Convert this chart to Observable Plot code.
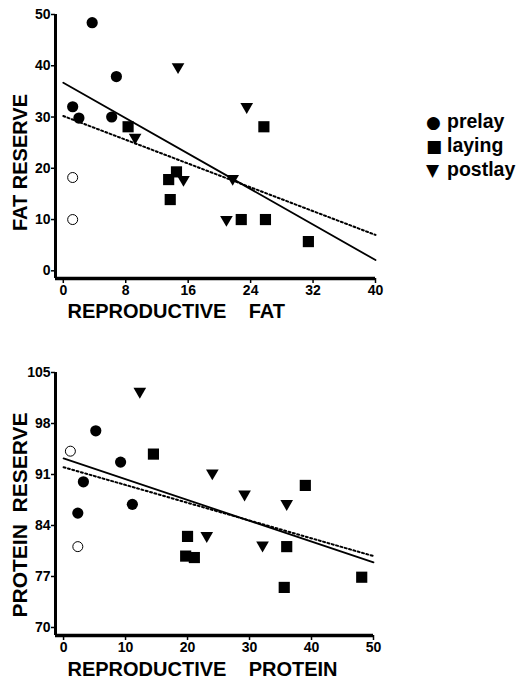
<!DOCTYPE html>
<html><head><meta charset="utf-8">
<script src="https://cdn.jsdelivr.net/npm/d3@7"></script>
<script src="https://cdn.jsdelivr.net/npm/@observablehq/plot@0.6"></script>
<style>
body{margin:0;background:#fff;font-family:"Liberation Sans",Arial,sans-serif;}
#wrap{position:relative;width:526px;height:683px;overflow:hidden}
#wrap svg{display:block}
#legend{position:absolute;left:426px;top:110px;font-weight:bold;font-size:19.5px;line-height:23px;color:#000}
#legend .s{display:inline-block;width:21px;text-align:left;font-family:"DejaVu Sans",sans-serif;font-size:17px}
</style></head><body>
<div id="wrap"><div id="legend"></div></div>
<script>
// ---------- data ----------
const seriesNames = ["prelay", "laying", "postlay"];

// Top panel: reproductive fat (x) vs fat reserve (y)
const fatXTicks = [0, 8, 16, 24, 32, 40];
const fatYTicks = [0, 10, 20, 30, 40, 50];
const fatPrelay = [[3.7, 48.4], [6.8, 37.9], [1.2, 32.0], [2.0, 29.8], [6.2, 30.0]];
const fatPrelayOpen = [[1.2, 18.2], [1.2, 10.0]];
const fatLaying = [[8.3, 28.1], [25.7, 28.1], [13.5, 17.8], [14.5, 19.3], [13.7, 13.9], [22.8, 10.0], [25.9, 10.0], [31.4, 5.7]];
const fatPostlay = [[14.7, 39.8], [23.5, 32.0], [9.2, 26.0], [15.4, 17.8], [21.7, 18.0], [20.9, 10.0]];
const fatFitSolid = {intercept: 36.7, slope: -0.865, from: 0, to: 40};
const fatFitDotted = {intercept: 30.2, slope: -0.58, from: 0, to: 40};

// Bottom panel: reproductive protein (x) vs protein reserve (y)
const protXTicks = [0, 10, 20, 30, 40, 50];
const protYTicks = [70, 77, 84, 91, 98, 105];
const protPrelay = [[5.2, 97.0], [9.2, 92.7], [3.2, 90.0], [2.3, 85.7], [11.1, 86.9]];
const protPrelayOpen = [[1.1, 94.2], [2.3, 81.1]];
const protLaying = [[14.5, 93.8], [39.0, 89.5], [20.0, 82.5], [19.7, 79.8], [21.1, 79.6], [36.0, 81.1], [35.6, 75.5], [48.1, 76.9]];
const protPostlay = [[12.3, 102.4], [24.0, 91.2], [29.2, 88.3], [36.0, 87.0], [23.1, 82.6], [32.1, 81.3]];
const protFitSolid = {intercept: 93.2, slope: -0.285, from: 0, to: 50};
const protFitDotted = {intercept: 92.0, slope: -0.244, from: 0, to: 50};

// ---------- drawing ----------
const triDown = {
  draw(ctx, size) {
    const w = Math.sqrt(4 * size / Math.sqrt(3)), h = w * Math.sqrt(3) / 2;
    ctx.moveTo(-w / 2, -h / 3); ctx.lineTo(w / 2, -h / 3); ctx.lineTo(0, 2 * h / 3); ctx.closePath();
  }
};
const fitPts = f => [f.from, f.to].map(x => [x, f.intercept + f.slope * x]);
const X = d => d[0], Y = d => d[1];

function panel(o) {
  const x0 = o.xDomain[0], y0 = o.yDomain[0];
  const xEnd = o.xTicks[o.xTicks.length - 1], yEnd = o.yTicks[o.yTicks.length - 1];
  return Plot.plot({
    width: 526, height: o.height,
    marginLeft: 55, marginRight: o.marginRight, marginTop: o.marginTop, marginBottom: o.marginBottom,
    style: {fontFamily: "'Liberation Sans', Arial, sans-serif", fontWeight: "bold", fontSize: "14px", color: "black", background: "white", overflow: "visible"},
    x: {domain: o.xDomain},
    y: {domain: o.yDomain},
    marks: [
      Plot.axisX({ticks: o.xTicks, tickSize: 5, tickPadding: 2, label: null, tickFormat: d => d, strokeWidth: 1.5}),
      Plot.axisY({ticks: o.yTicks, tickSize: 4, tickPadding: 1, label: null, tickFormat: d => d, strokeWidth: 1.5}),
      Plot.ruleX([x0], {y1: y0, y2: yEnd, stroke: "black", strokeWidth: 3}),
      Plot.ruleY([y0], {x1: x0, x2: xEnd, stroke: "black", strokeWidth: 3.5}),
      Plot.line(fitPts(o.solid), {x: X, y: Y, stroke: "black", strokeWidth: 1.8}),
      Plot.line(fitPts(o.dotted), {x: X, y: Y, stroke: "black", strokeWidth: 2, strokeDasharray: "2,2.5"}),
      Plot.dot(o.prelay, {x: X, y: Y, r: 5.6, fill: "black", symbol: "circle"}),
      Plot.dot(o.open, {x: X, y: Y, r: 5, fill: "white", stroke: "black", strokeWidth: 1, symbol: "circle"}),
      Plot.dot(o.laying, {x: X, y: Y, r: 6.3, fill: "black", symbol: "square"}),
      Plot.dot(o.postlay, {x: X, y: Y, r: 4.7, fill: "black", symbol: triDown}),
      Plot.text([o.xTitle], {frameAnchor: "bottom-left", dx: 12, dy: o.xTitleDy, textAnchor: "start", lineAnchor: "middle", fontSize: 20, fontWeight: "bold"}),
      Plot.text([o.yTitle], {frameAnchor: "left", rotate: -90, dx: -35, dy: o.yTitleDy, textAnchor: "middle", lineAnchor: "middle", fontSize: o.yTitleSize, fontWeight: "bold"})
    ]
  });
}

const wrap = document.getElementById("wrap");
wrap.appendChild(panel({
  height: 330, marginTop: 14, marginBottom: 52, marginRight: 151,
  xDomain: [-1, 40], yDomain: [-1.5, 50], xTicks: fatXTicks, yTicks: fatYTicks,
  prelay: fatPrelay, open: fatPrelayOpen, laying: fatLaying, postlay: fatPostlay,
  solid: fatFitSolid, dotted: fatFitDotted,
  xTitle: "REPRODUCTIVE\u00a0\u00a0\u00a0\u00a0FAT", xTitleDy: 33,
  yTitle: "FAT RESERVE", yTitleDy: 16, yTitleSize: 20
}));
wrap.appendChild(panel({
  height: 353, marginTop: 42, marginBottom: 48, marginRight: 153,
  xDomain: [-1.3, 50], yDomain: [68.9, 105], xTicks: protXTicks, yTicks: protYTicks,
  prelay: protPrelay, open: protPrelayOpen, laying: protLaying, postlay: protPostlay,
  solid: protFitSolid, dotted: protFitDotted,
  xTitle: "REPRODUCTIVE\u00a0\u00a0\u00a0\u00a0PROTEIN", xTitleDy: 34,
  yTitle: "PROTEIN\u00a0\u00a0RESERVE", yTitleDy: 11, yTitleSize: 21
}));

const symbols = {prelay: "\u25CF", laying: "\u25A0", postlay: "\u25BC"};
document.getElementById("legend").innerHTML = seriesNames
  .map(n => `<div><span class="s">${symbols[n]}</span>${n}</div>`).join("");
</script>
</body></html>
